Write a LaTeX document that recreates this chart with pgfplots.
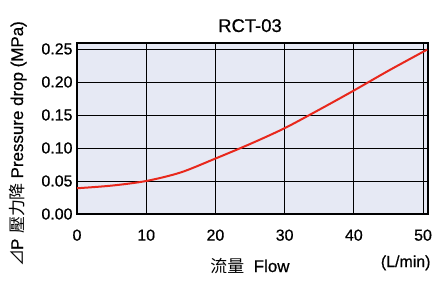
\documentclass[border=0pt]{standalone}
\usepackage{fontspec}
\setmainfont[FakeBold=0.6]{Liberation Sans}
\newfontfamily\cjk{Noto Sans CJK TC}
\usepackage{pgfplots}
\pgfplotsset{compat=1.18}
\definecolor{plotbg}{RGB}{230,233,244}
\definecolor{curve}{RGB}{232,40,28}
\begin{document}
\begin{tikzpicture}[x=1bp,y=1bp]
\path[use as bounding box] (0,0) rectangle (435,291);
\begin{axis}[
  at={(77bp,77bp)}, anchor=south west,
  scale only axis, width=351bp, height=171bp,
  xmin=0, xmax=50.72, ymin=0, ymax=0.259,
  xtick={0,10,20,30,40,50},
  ytick={0,0.05,0.10,0.15,0.20,0.25},
  yticklabel style={/pgf/number format/fixed, /pgf/number format/fixed zerofill, /pgf/number format/precision=2, font=\fontsize{16}{16}\selectfont, xshift=-1bp},
  xticklabel style={font=\fontsize{16}{16}\selectfont, yshift=-12bp},
  /pgf/number format/assume math mode=true,
  major tick length=0pt,
  grid=major,
  major grid style={black, line width=0.8bp},
  axis line style={black, line width=2.2bp},
  axis background/.style={fill=plotbg},
]
\addplot[curve, line width=2bp, smooth, tension=0.5] coordinates {
(0,0.039) (5,0.043) (10,0.050) (15,0.063) (20,0.084) (25,0.106) (30,0.130) (35,0.158) (40,0.187) (45,0.217) (50.6,0.249)
};
\end{axis}
\node[font=\fontsize{18.5}{18.5}\selectfont, anchor=base] at (250,259) {RCT-03};
\node[font=\fontsize{17}{17}\selectfont, anchor=base] at (250,19) {{\cjk 流量}\ \ Flow};
\node[font=\fontsize{16}{16}\selectfont, anchor=base east] at (434,24) {(L/min)};
\node[font=\fontsize{17}{17}\selectfont, rotate=90, anchor=base] at (23,147) {{\cjk ⊿}P {\cjk 壓力降} Pressure drop (MPa)};
\end{tikzpicture}
\end{document}
